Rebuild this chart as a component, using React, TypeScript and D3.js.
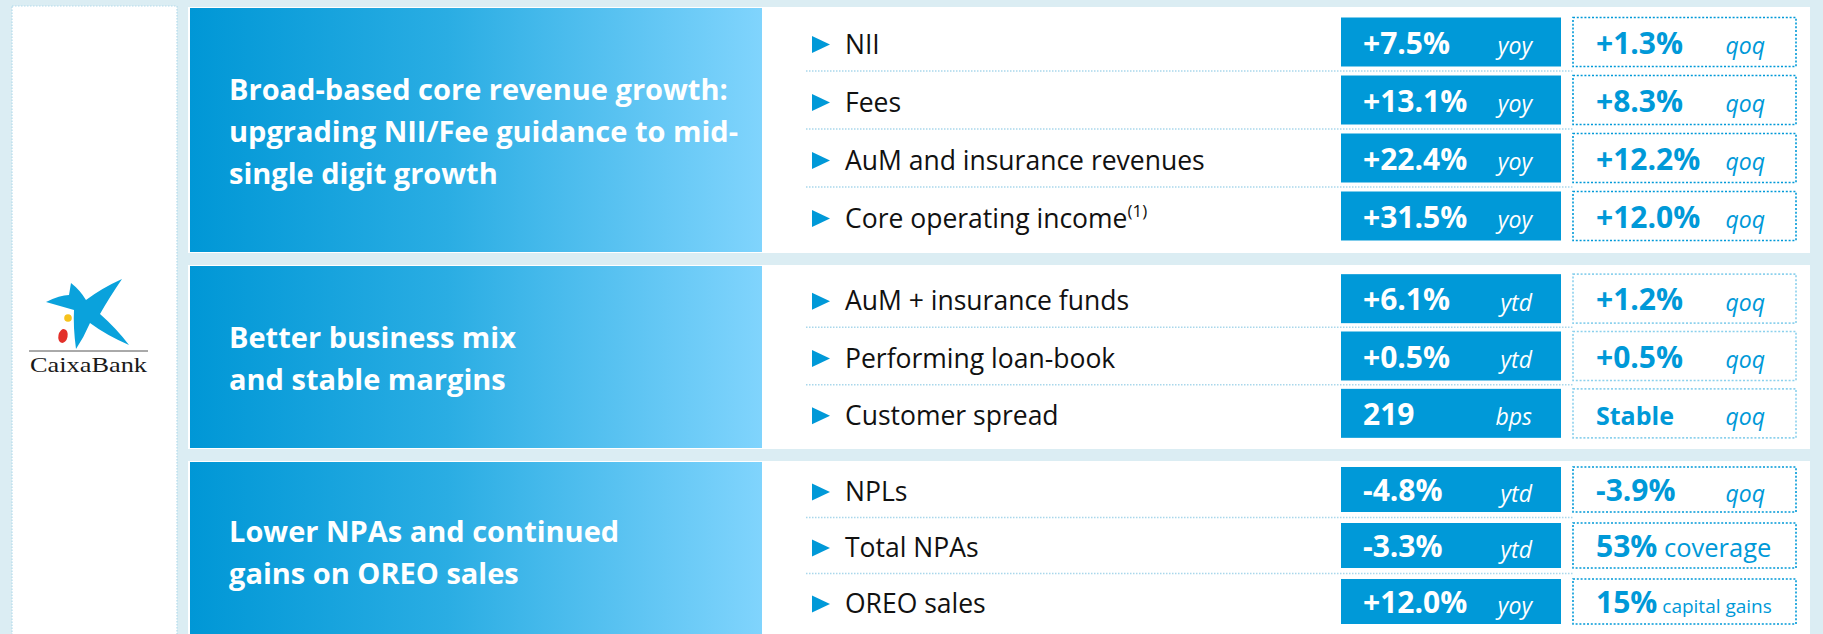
import React from "react";
import * as d3 from "d3";

// section headlines, one array of lines per block
const sectionTitles = [
  ["Broad-based core revenue growth:", "upgrading NII/Fee guidance to mid-", "single digit growth"],
  ["Better business mix", "and stable margins"],
  ["Lower NPAs and continued", "gains on OREO sales"],
];

const metricLabels = [
  "NII",
  "Fees",
  "AuM and insurance revenues",
  "Core operating income",
  "AuM + insurance funds",
  "Performing loan-book",
  "Customer spread",
  "NPLs",
  "Total NPAs",
  "OREO sales",
];
const metricNotes = ["", "", "", "(1)", "", "", "", "", "", ""];
const metricSection = [0, 0, 0, 0, 1, 1, 1, 2, 2, 2];

const primaryValues = ["+7.5%", "+13.1%", "+22.4%", "+31.5%", "+6.1%", "+0.5%", "219", "-4.8%", "-3.3%", "+12.0%"];
const primaryUnits = ["yoy", "yoy", "yoy", "yoy", "ytd", "ytd", "bps", "ytd", "ytd", "yoy"];
const secondaryValues = ["+1.3%", "+8.3%", "+12.2%", "+12.0%", "+1.2%", "+0.5%", "Stable", "-3.9%", "53%", "15%"];
const secondaryUnits = ["qoq", "qoq", "qoq", "qoq", "qoq", "qoq", "qoq", "qoq", "coverage", "capital gains"];

const W = 1823;
const H = 634;
const FONT = "'Open Sans', Lato, sans-serif";
const BLUE = "#0099d8";
const BG = "#dbedf3";

const secTop = [7, 265, 461];
const secBottom = [253, 449, 642];
const rowRange: [number, number][] = [
  [13, 245],
  [270, 442],
  [461.5, 629.5],
];
const boxH = [49, 49, 45];
const boxStroke = [1, 0.45, 1];

const periodUnits = ["yoy", "qoq", "ytd", "bps"];

const starPath = () => {
  // rough CaixaBank star
  const p = d3.path();
  p.moveTo(46, 302);
  p.quadraticCurveTo(60, 295, 69, 295);
  p.lineTo(71, 283);
  p.quadraticCurveTo(80, 290, 86, 300);
  p.quadraticCurveTo(102, 288, 122, 279);
  p.quadraticCurveTo(109, 298, 100, 314);
  p.quadraticCurveTo(116, 328, 129, 345);
  p.quadraticCurveTo(106, 335, 90, 323);
  p.quadraticCurveTo(84, 337, 76, 349);
  p.quadraticCurveTo(73, 326, 74, 310);
  p.quadraticCurveTo(60, 306, 46, 302);
  p.closePath();
  return p.toString();
};

export default function App() {
  const rows = metricLabels.map((label, i) => {
    const s = metricSection[i];
    const idx = metricSection.slice(0, i).filter((v) => v === s).length;
    const n = metricSection.filter((v) => v === s).length;
    const y = d3.scalePoint<number>().domain(d3.range(n)).range(rowRange[s]).padding(0.5);
    return { i, s, idx, n, cy: y(idx) as number, step: y.step() };
  });

  return (
    <svg
      width={W}
      height={H}
      style={{ position: "absolute", left: 0, top: 0, display: "block" }}
      fontFamily={FONT}
    >
      <defs>
        <linearGradient id="secGrad" x1="0" x2="1" y1="0" y2="0">
          <stop offset="0%" stopColor="#0097d6" />
          <stop offset="45%" stopColor="#2aade3" />
          <stop offset="100%" stopColor="#80d4fd" />
        </linearGradient>
      </defs>
      <rect width={W} height={H} fill={BG} />

      {/* logo panel */}
      <rect x={12} y={6} width={165} height={H} fill="#fff" stroke="#b3dbeb" strokeWidth={1.2} strokeDasharray="1.5 1.5" />
      <g>
        <path d={starPath()} fill="#0aa2dc" />
        <circle cx={68} cy={318} r={3.8} fill="#f6c21c" />
        <ellipse cx={63} cy={336} rx={4.6} ry={7} fill="#e3302a" transform="rotate(12 63 336)" />
        <line x1={29} x2={148} y1={351} y2={351} stroke="#555" strokeWidth={1} />
        <text x={30} y={372} fontFamily="'Liberation Serif', 'DejaVu Serif', serif" fontSize={22} fill="#1a1a1a" textLength={117} lengthAdjust="spacingAndGlyphs">
          CaixaBank
        </text>
      </g>

      {sectionTitles.map((lines, s) => {
        const top = secTop[s];
        const bot = secBottom[s];
        const mid = (top + bot) / 2;
        return (
          <g key={s}>
            <rect x={188} y={top} width={1622} height={bot - top} fill="#fff" />
            <rect x={190} y={top + 1} width={572} height={bot - top - 2} fill="url(#secGrad)" />
            {lines.map((ln, k) => (
              <text
                key={k}
                x={229}
                y={mid + 11.5 + (k - (lines.length - 1) / 2) * 42}
                fill="#fff"
                fontWeight={700}
                fontSize={29}
              >
                {ln}
              </text>
            ))}
          </g>
        );
      })}

      {/* separators */}
      {rows
        .filter((r) => r.idx < r.n - 1)
        .map((r) => (
          <line
            key={"sep" + r.i}
            x1={806}
            x2={1573}
            y1={r.cy + r.step / 2}
            y2={r.cy + r.step / 2}
            stroke="#a9d7eb"
            strokeWidth={1.5}
            strokeDasharray="1.5 1.5"
          />
        ))}

      {rows.map((r) => {
        const { i, s, cy } = r;
        const h = boxH[s];
        const secUnit = secondaryUnits[i];
        const secVal = secondaryValues[i];
        const inline = !periodUnits.includes(secUnit);
        const numeric = /[0-9]/.test(secVal);
        return (
          <g key={i}>
            <path d={`M812,${cy - 6}L830,${cy + 2.5}L812,${cy + 11}Z`} fill={BLUE} />
            <text x={845} y={cy + 11.5} fontSize={26.5} fill="#111">
              {metricLabels[i]}
              {metricNotes[i] && (
                <tspan fontSize={17} dy={-11}>
                  {metricNotes[i]}
                </tspan>
              )}
            </text>

            <rect x={1341} y={cy - h / 2} width={220} height={h} fill={BLUE} />
            <text x={1363} y={cy + 11.5} fill="#fff" fontWeight={700} fontSize={30}>
              {primaryValues[i]}
            </text>
            <text x={1532} y={cy + 12} fill="#fff" fontStyle="italic" fontSize={23} textAnchor="end">
              {primaryUnits[i]}
            </text>

            <rect
              x={1573}
              y={cy - h / 2}
              width={223}
              height={h}
              fill="#fff"
              stroke={BLUE}
              strokeOpacity={boxStroke[s]}
              strokeWidth={1.6}
              strokeDasharray="2 1.8"
            />
            <text x={1596} y={cy + 11.5} fill={BLUE} fontWeight={700} fontSize={numeric ? 30 : 25}>
              {secVal}
              {inline && (
                <tspan fontWeight={400} fontSize={secUnit.length > 10 ? 19 : 25.5}>
                  {" " + secUnit}
                </tspan>
              )}
            </text>
            {!inline && (
              <text x={1765} y={cy + 12} fill={BLUE} fontStyle="italic" fontSize={23} textAnchor="end">
                {secUnit}
              </text>
            )}
          </g>
        );
      })}
    </svg>
  );
}
